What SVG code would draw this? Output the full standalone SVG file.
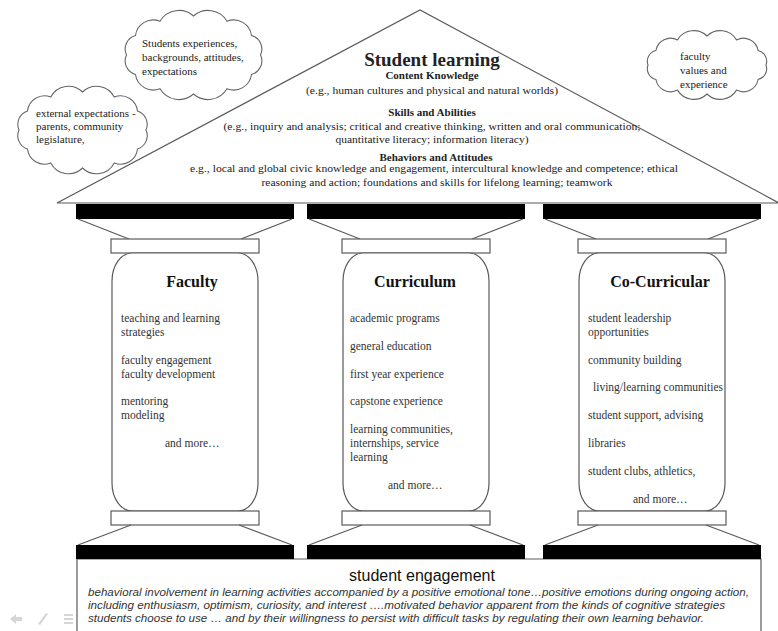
<svg xmlns="http://www.w3.org/2000/svg" width="778" height="631" viewBox="0 0 778 631">
<style>
.ln{fill:none;stroke:#5a5a5a;stroke-width:1.2}
.wf{fill:#fff;stroke:#5a5a5a;stroke-width:1.2}
.cl{fill:#fff;stroke:#666;stroke-width:1.1}
.bar{fill:#000}
.t{font-family:"Liberation Serif",serif;fill:#222;font-size:11px}
.c{text-anchor:middle}
.b{font-weight:bold}
.p{font-family:"Liberation Serif",serif;fill:#333;font-size:11.5px}
.h{font-family:"Liberation Serif",serif;font-weight:bold;fill:#111;font-size:16px;text-anchor:middle}
.it{font-family:"Liberation Sans",Arial,sans-serif;font-style:italic;fill:#333;font-size:10.5px}
</style>
<rect width="778" height="631" fill="#fff"/>

<g id="roof">
<polygon class="wf" points="57,203 420,10 779,203"/>
<text class="t b c" x="432" y="66" style="font-size:19px">Student learning</text>
<text class="t b c" x="432" y="79">Content Knowledge</text>
<text class="t c" x="432" y="94" textLength="252" lengthAdjust="spacingAndGlyphs">(e.g., human cultures and physical and natural worlds)</text>
<text class="t b c" x="432" y="116">Skills and Abilities</text>
<text class="t c" x="432" y="130" textLength="417" lengthAdjust="spacingAndGlyphs">(e.g., inquiry and analysis; critical and creative thinking, written and oral communication;</text>
<text class="t c" x="432" y="143" textLength="193" lengthAdjust="spacingAndGlyphs">quantitative literacy; information literacy)</text>
<text class="t b c" x="436" y="161">Behaviors and Attitudes</text>
<text class="t c" x="434" y="172" textLength="488" lengthAdjust="spacingAndGlyphs">e.g., local and global civic knowledge and engagement,  intercultural knowledge and competence; ethical</text>
<text class="t c" x="437" y="186" textLength="351" lengthAdjust="spacingAndGlyphs">reasoning and action; foundations and skills for lifelong learning; teamwork</text>
</g>

<g id="cloud-students">
<path class="cl" d="M126.5,55 A14,14 0 0 1 135.5,35.5 A18,18 0 0 1 160,21.2 A22,22 0 0 1 193.5,16 A22,22 0 0 1 227,21.2 A18,18 0 0 1 251.5,35.5 A14,14 0 0 1 260.5,55 A14,14 0 0 1 251.5,74.5 A18,18 0 0 1 227,88.8 A22,22 0 0 1 193.5,94 A22,22 0 0 1 160,88.8 A18,18 0 0 1 135.5,74.5 A14,14 0 0 1 126.5,55 Z"/>
<text class="t" x="142" y="47">Students experiences,</text>
<text class="t" x="142" y="61">backgrounds, attitudes,</text>
<text class="t" x="142" y="75">expectations</text>
</g>

<g id="cloud-external">
<path class="cl" d="M19,130 A14,14 0 0 1 27.5,111 A17,17 0 0 1 50.75,97.1 A20,20 0 0 1 82.5,92 A20,20 0 0 1 114.25,97.1 A17,17 0 0 1 137.5,111 A14,14 0 0 1 146,130 A14,14 0 0 1 137.5,149 A17,17 0 0 1 114.25,162.9 A20,20 0 0 1 82.5,168 A20,20 0 0 1 50.75,162.9 A17,17 0 0 1 27.5,149 A14,14 0 0 1 19,130 Z"/>
<text class="t" x="36" y="117">external expectations  -</text>
<text class="t" x="36" y="130">parents, community</text>
<text class="t" x="36" y="143">legislature,</text>
</g>

<g id="cloud-faculty">
<path class="cl" d="M648,65 A11,11 0 0 1 655.9,50.5 A15,15 0 0 1 677.5,39.9 A19,19 0 0 1 707,36 A19,19 0 0 1 736.5,39.9 A15,15 0 0 1 758.1,50.5 A11,11 0 0 1 766,65 A11,11 0 0 1 758.1,79.5 A15,15 0 0 1 736.5,90.1 A19,19 0 0 1 707,94 A19,19 0 0 1 677.5,90.1 A15,15 0 0 1 655.9,79.5 A11,11 0 0 1 648,65 Z"/>
<text class="t" x="680" y="60">faculty</text>
<text class="t" x="680" y="74">values and</text>
<text class="t" x="680" y="88">experience</text>
</g>

<g id="engagement">
<path class="ln" d="M77,640 V559 H761 V640"/>
<text x="422" y="581" style="font-family:'Liberation Sans',Arial,sans-serif;font-size:16px;fill:#111;text-anchor:middle">student engagement</text>
<text class="it" x="88" y="596" textLength="661" lengthAdjust="spacingAndGlyphs">behavioral involvement in learning activities accompanied by a positive emotional tone…positive emotions during ongoing action,</text>
<text class="it" x="88" y="609" textLength="637" lengthAdjust="spacingAndGlyphs">including enthusiasm, optimism, curiosity, and interest  ….motivated behavior apparent from the kinds of cognitive strategies</text>
<text class="it" x="88" y="622" textLength="616" lengthAdjust="spacingAndGlyphs">students choose to use … and by their willingness to persist with difficult tasks by regulating their own learning behavior.</text>
</g>

<g id="pillar-faculty">
<rect class="bar" x="76" y="204" width="218" height="15"/>
<path class="ln" d="M78,219 L129,239 M292,219 L241,239"/>
<rect class="wf" x="111" y="239" width="148" height="14"/>
<path class="wf" d="M132,253 H238 A20,28 0 0 1 258,281 V483 A20,28 0 0 1 238,511 H132 A20,28 0 0 1 112,483 V281 A20,28 0 0 1 132,253 Z"/>
<rect class="wf" x="111" y="511" width="148" height="14"/>
<path class="ln" d="M131,525 L78,545 M239,525 L292,545"/>
<rect class="bar" x="76" y="545" width="218" height="14"/>
<text class="h" x="192" y="287">Faculty</text>
<text class="p" x="121" y="322">teaching and learning</text>
<text class="p" x="121" y="336">strategies</text>
<text class="p" x="121" y="364">faculty engagement</text>
<text class="p" x="121" y="378">faculty development</text>
<text class="p" x="121" y="405">mentoring</text>
<text class="p" x="121" y="419">modeling</text>
<text class="p" x="165" y="447">and more…</text>
</g>

<g id="pillar-curriculum">
<rect class="bar" x="307" y="204" width="218" height="15"/>
<path class="ln" d="M309,219 L360,239 M523,219 L472,239"/>
<rect class="wf" x="342" y="239" width="148" height="14"/>
<path class="wf" d="M363,253 H469 A20,28 0 0 1 489,281 V483 A20,28 0 0 1 469,511 H363 A20,28 0 0 1 343,483 V281 A20,28 0 0 1 363,253 Z"/>
<rect class="wf" x="342" y="511" width="148" height="14"/>
<path class="ln" d="M362,525 L309,545 M470,525 L523,545"/>
<rect class="bar" x="307" y="545" width="218" height="14"/>
<text class="h" x="415" y="287">Curriculum</text>
<text class="p" x="350" y="322">academic programs</text>
<text class="p" x="350" y="350">general education</text>
<text class="p" x="350" y="378">first year experience</text>
<text class="p" x="350" y="405">capstone experience</text>
<text class="p" x="350" y="433">learning communities,</text>
<text class="p" x="350" y="447">internships, service</text>
<text class="p" x="350" y="461">learning</text>
<text class="p" x="388" y="489">and more…</text>
</g>

<g id="pillar-cocurricular">
<rect class="bar" x="543" y="204" width="218" height="15"/>
<path class="ln" d="M545,219 L596,239 M759,219 L708,239"/>
<rect class="wf" x="578" y="239" width="148" height="14"/>
<path class="wf" d="M599,253 H705 A20,28 0 0 1 725,281 V483 A20,28 0 0 1 705,511 H599 A20,28 0 0 1 579,483 V281 A20,28 0 0 1 599,253 Z"/>
<rect class="wf" x="578" y="511" width="148" height="14"/>
<path class="ln" d="M598,525 L545,545 M706,525 L759,545"/>
<rect class="bar" x="543" y="545" width="218" height="14"/>
<text class="h" x="660" y="287">Co-Curricular</text>
<text class="p" x="588" y="322">student leadership</text>
<text class="p" x="588" y="336">opportunities</text>
<text class="p" x="588" y="364">community building</text>
<text class="p" x="593" y="391">living/learning communities</text>
<text class="p" x="588" y="419">student support, advising</text>
<text class="p" x="588" y="447">libraries</text>
<text class="p" x="588" y="475">student clubs, athletics,</text>
<text class="p" x="633" y="503">and more…</text>
</g>

<g id="connectors"></g>

<g id="nav" fill="#d6d6d6" stroke="none">
<polygon points="10,619 16,614 16,617 22,617 22,621 16,621 16,624"/>
<polygon points="38,624 46,613 48,614 40,625"/>
<rect x="64" y="614" width="9" height="2"/>
<rect x="64" y="618" width="9" height="2"/>
<rect x="64" y="622" width="9" height="2"/>
</g>
</svg>
